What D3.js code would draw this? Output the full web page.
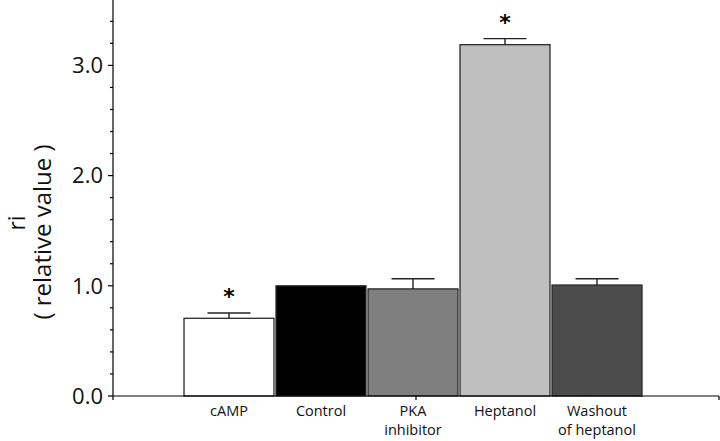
<!DOCTYPE html>
<html>
<head>
<meta charset="utf-8">
<script src="https://cdn.jsdelivr.net/npm/d3@7"></script>
<style>
  html, body { margin: 0; padding: 0; background: #fff; }
  svg { display: block; }
</style>
</head>
<body>
<svg id="chart" width="720" height="441"></svg>
<script>
// ---- data ----
const categories = ["cAMP", "Control", "PKA inhibitor", "Heptanol", "Washout of heptanol"];
const labelLines = [["cAMP"], ["Control"], ["PKA", "inhibitor"], ["Heptanol"], ["Washout", "of heptanol"]];
const values = [0.705, 1.0, 0.972, 3.188, 1.007];
const errors = [0.048, 0, 0.092, 0.055, 0.057];
const significant = [true, false, false, true, false];
const barColors = ["#ffffff", "#000000", "#7f7f7f", "#bfbfbf", "#4c4c4c"];
const yMajorTicks = [0, 1, 2, 3];
const yTickLabels = ["0.0", "1.0", "2.0", "3.0"];
const yMinorTicks = [0.2, 0.4, 0.6, 0.8, 1.2, 1.4, 1.6, 1.8, 2.2, 2.4, 2.6, 2.8, 3.2, 3.4];

const svg = d3.select("#chart");
const font = "'Open Sans', 'DejaVu Sans', sans-serif";

const axisX0 = 113, axisX1 = 719, baseY = 396;
const y = d3.scaleLinear().domain([0, 3.6]).range([baseY, baseY - 3.6 * 110.2]);
const x = d3.scaleBand().domain(categories).range([183, 643]).paddingInner(0.022).paddingOuter(0.011);

// bars
svg.append("g").selectAll("rect").data(categories).join("rect")
  .attr("x", d => x(d))
  .attr("y", (d, i) => y(values[i]))
  .attr("width", x.bandwidth())
  .attr("height", (d, i) => baseY - y(values[i]))
  .attr("fill", (d, i) => barColors[i])
  .attr("stroke", "#2a2a2a")
  .attr("stroke-width", 1.3);

// error bars
const eg = svg.append("g").attr("stroke", "#222").attr("stroke-width", 1.4);
categories.forEach((c, i) => {
  if (!errors[i]) return;
  const cx = x(c) + x.bandwidth() / 2;
  const top = y(values[i] + errors[i]);
  eg.append("line").attr("x1", cx).attr("x2", cx).attr("y1", y(values[i])).attr("y2", top);
  eg.append("line").attr("x1", cx - 21.5).attr("x2", cx + 21.5).attr("y1", top).attr("y2", top);
});

// significance stars
svg.append("g").selectAll("text").data(categories.filter((c, i) => significant[i])).join("text")
  .attr("x", d => x(d) + x.bandwidth() / 2)
  .attr("y", d => { const i = categories.indexOf(d); return y(values[i] + errors[i]) - 9; })
  .attr("text-anchor", "middle")
  .attr("font-family", "'DejaVu Sans', sans-serif")
  .attr("font-weight", "bold")
  .attr("font-size", 22)
  .attr("fill", "#000")
  .text("*");

// y axis
const ya = svg.append("g").attr("stroke", "#000").attr("stroke-width", 1.2);
ya.append("line").attr("x1", axisX0).attr("x2", axisX0).attr("y1", y(3.6)).attr("y2", baseY);
ya.selectAll(".maj").data(yMajorTicks).join("line").attr("class", "maj")
  .attr("x1", axisX0 - 5).attr("x2", axisX0).attr("y1", d => y(d)).attr("y2", d => y(d));
ya.selectAll(".min").data(yMinorTicks).join("line").attr("class", "min")
  .attr("x1", axisX0 - 3).attr("x2", axisX0).attr("y1", d => y(d)).attr("y2", d => y(d));
svg.append("g").selectAll("text").data(yMajorTicks).join("text")
  .attr("x", axisX0 - 10)
  .attr("y", d => y(d) + 7.8)
  .attr("text-anchor", "end")
  .attr("font-family", font)
  .attr("font-size", 22)
  .attr("fill", "#111")
  .text((d, i) => yTickLabels[i]);

// x axis
const xa = svg.append("g").attr("stroke", "#000").attr("stroke-width", 1.2);
xa.append("line").attr("x1", axisX0).attr("x2", axisX1).attr("y1", baseY).attr("y2", baseY);
[axisX0, (axisX0 + axisX1) / 2, axisX1].forEach(t => {
  xa.append("line").attr("x1", t).attr("x2", t).attr("y1", baseY).attr("y2", baseY + 4);
});

// x labels
const xl = svg.append("g");
categories.forEach((c, i) => {
  const t = xl.append("text")
    .attr("x", x(c) + x.bandwidth() / 2)
    .attr("y", 416)
    .attr("text-anchor", "middle")
    .attr("font-family", font)
    .attr("font-size", 14.5)
    .attr("fill", "#111");
  labelLines[i].forEach((ln, k) => {
    t.append("tspan").attr("x", x(c) + x.bandwidth() / 2).attr("dy", k === 0 ? 0 : 19).text(ln);
  });
});

// y title
svg.append("text")
  .attr("transform", "translate(25,223) rotate(-90)")
  .attr("text-anchor", "middle")
  .attr("font-family", font)
  .attr("font-size", 23)
  .attr("fill", "#111")
  .text("ri");
svg.append("text")
  .attr("transform", "translate(51,232) rotate(-90)")
  .attr("text-anchor", "middle")
  .attr("font-family", font)
  .attr("font-size", 24)
  .attr("fill", "#111")
  .text("( relative value )");
</script>
</body>
</html>
